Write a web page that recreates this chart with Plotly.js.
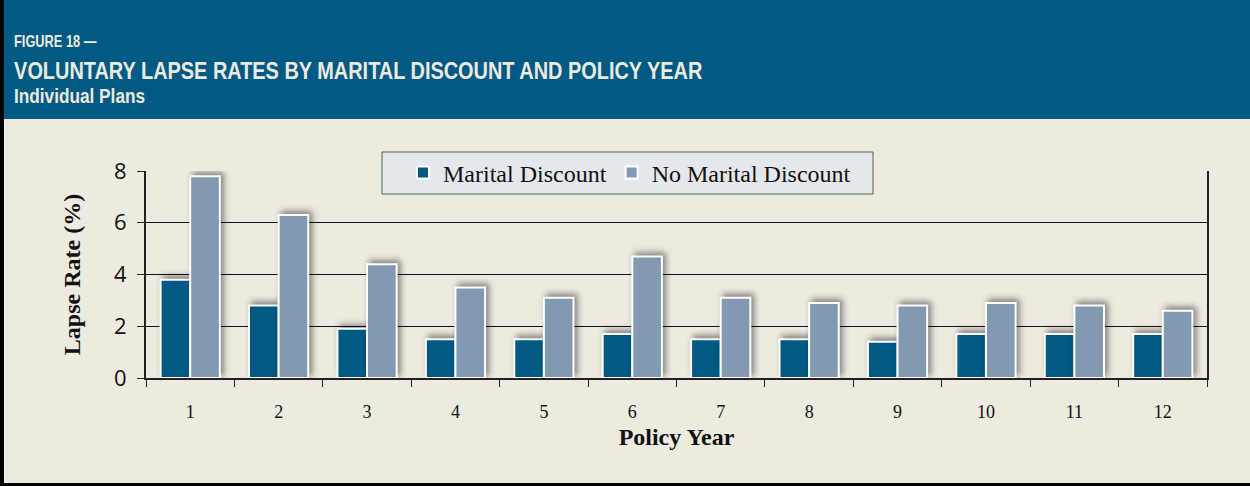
<!DOCTYPE html>
<html>
<head>
<meta charset="utf-8">
<script src="https://cdn.plot.ly/plotly-3.0.1.min.js"></script>
<style>
  html, body { margin: 0; padding: 0; background: #EDEADF; }
  #chart { width: 1250px; height: 486px; }
  .trace.bars .point path { filter: drop-shadow(3px -3px 3px rgba(0,0,0,0.45)); }
</style>
</head>
<body>
<div id="chart"></div>
<script>
const policyYears = ["1","2","3","4","5","6","7","8","9","10","11","12"];
const maritalDiscount = [3.8, 2.8, 1.9, 1.5, 1.5, 1.7, 1.5, 1.5, 1.4, 1.7, 1.7, 1.7];
const noMaritalDiscount = [7.8, 6.3, 4.4, 3.5, 3.1, 4.7, 3.1, 2.9, 2.8, 2.9, 2.8, 2.6];
const seriesNames = ["Marital Discount", "No Marital Discount"];
const figureLabel = "FIGURE 18 —";
const titleText = "VOLUNTARY LAPSE RATES BY MARITAL DISCOUNT AND POLICY YEAR";
const subtitleText = "Individual Plans";

const W = 1250, H = 486;
const M = { l: 146, r: 43, t: 171, b: 108 };
const pw = W - M.l - M.r, ph = H - M.t - M.b;
const px = x => (x - M.l) / pw;
const py = y => (H - M.b - y) / ph;

const headerFont = "'Liberation Sans', Arial, sans-serif";
const serif = "'Liberation Serif', 'Times New Roman', serif";

const traces = [
  { type: 'bar', name: seriesNames[0], x: policyYears, y: maritalDiscount,
    marker: { color: '#005A84', line: { color: '#FFFFFF', width: 2 } }, hoverinfo: 'y' },
  { type: 'bar', name: seriesNames[1], x: policyYears, y: noMaritalDiscount,
    marker: { color: '#8199B1', line: { color: '#FFFFFF', width: 2 } }, hoverinfo: 'y' }
];

const layout = {
  width: W, height: H,
  margin: M,
  paper_bgcolor: '#EDEADF', plot_bgcolor: 'rgba(0,0,0,0)',
  barmode: 'group', bargap: 0.33, bargroupgap: 0,
  showlegend: true,
  legend: {
    orientation: 'h', x: px(403), y: py(173), xanchor: 'left', yanchor: 'middle',
    bgcolor: 'rgba(0,0,0,0)', borderwidth: 0,
    font: { family: serif, size: 24, color: '#111' },
    traceorder: 'normal', itemwidth: 30
  },
  xaxis: {
    type: 'category', tickson: 'boundaries', ticks: 'outside', ticklen: 7, tickwidth: 1, tickcolor: '#222',
    showline: true, linecolor: '#222', linewidth: 2, mirror: false,
    tickfont: { family: serif, size: 18, color: '#111' }, ticklabelstandoff: 16,
    title: { text: '<b>Policy Year</b>', font: { family: serif, size: 24, color: '#111' }, standoff: 8 },
    showgrid: false, zeroline: false, fixedrange: true
  },
  yaxis: {
    range: [0, 8], dtick: 2, ticks: 'outside', ticklen: 7, tickcolor: '#222',
    showline: true, linecolor: '#222', linewidth: 2, mirror: true,
    showgrid: true, gridcolor: '#111', gridwidth: 1, zeroline: false,
    tickfont: { family: "'Open Sans', 'DejaVu Sans', sans-serif", size: 22, color: '#111' },
    ticklabelstandoff: 6,
    title: { text: '<b>Lapse Rate (%)</b>', font: { family: serif, size: 24, color: '#111' }, standoff: 27 },
    fixedrange: true
  },
  shapes: [
    { type: 'rect', xref: 'paper', yref: 'paper', x0: px(0), x1: px(W), y0: py(119), y1: py(0),
      fillcolor: '#005A84', line: { width: 0 }, layer: 'below' },
    { type: 'rect', xref: 'paper', yref: 'paper', x0: px(0), x1: px(4), y0: py(H), y1: py(0),
      fillcolor: '#000', line: { width: 0 } },
    { type: 'rect', xref: 'paper', yref: 'paper', x0: px(0), x1: px(W), y0: py(H), y1: py(483),
      fillcolor: '#000', line: { width: 0 } },
    { type: 'rect', xref: 'paper', yref: 'paper', x0: px(382), x1: px(873), y0: py(194), y1: py(152),
      fillcolor: '#E4E8EC', line: { color: '#5A5A5A', width: 1 }, layer: 'above' }
  ],
  annotations: [
    { xref: 'paper', yref: 'paper', x: px(12), y: py(41), xanchor: 'left', yanchor: 'middle', showarrow: false,
      text: '<b>' + figureLabel + '</b>', font: { family: headerFont, size: 16, color: '#EDEADF' } },
    { xref: 'paper', yref: 'paper', x: px(12), y: py(70), xanchor: 'left', yanchor: 'middle', showarrow: false,
      text: '<b>' + titleText + '</b>', font: { family: headerFont, size: 24, color: '#EDEADF' } },
    { xref: 'paper', yref: 'paper', x: px(12), y: py(96), xanchor: 'left', yanchor: 'middle', showarrow: false,
      text: '<b>' + subtitleText + '</b>', font: { family: headerFont, size: 21, color: '#EDEADF' } }
  ]
};

// horizontal condensing factors to mimic the narrow header typeface
const headerScale = [0.8, 0.83, 0.82];

Plotly.newPlot('chart', traces, layout, { displayModeBar: false, staticPlot: true }).then(gd => {
  const texts = gd.querySelectorAll('.annotation .annotation-text');
  texts.forEach((t, i) => {
    const bb = t.getBBox();
    const s = headerScale[i] || 1;
    const x0 = bb.x;
    t.setAttribute('transform', `translate(${x0 * (1 - s)},0) scale(${s},1)`);
  });
});
</script>
</body>
</html>
